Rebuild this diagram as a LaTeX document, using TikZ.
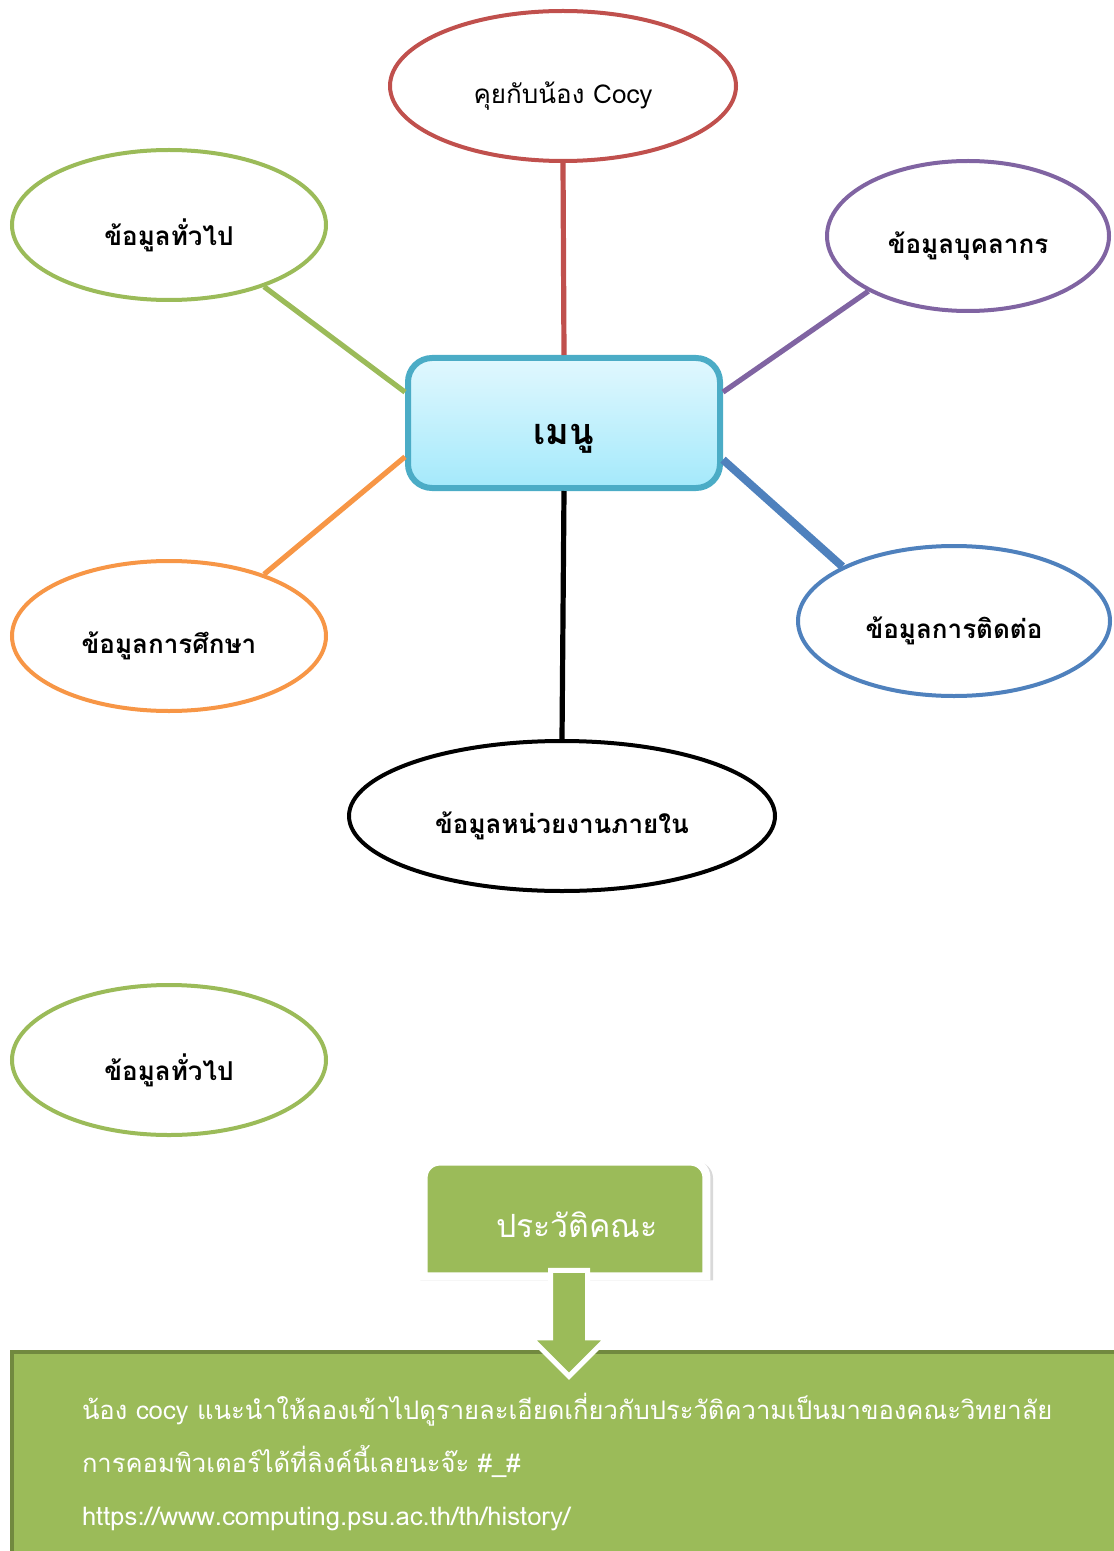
\documentclass[tikz,border=0pt]{standalone}
\usepackage{fontspec}
\newfontfamily\thaifont[Script=Thai]{Loma}
\usetikzlibrary{shapes.geometric,shapes.arrows,shadows,backgrounds}

\definecolor{cocyRed}{RGB}{192,80,77}
\definecolor{genGreen}{RGB}{155,187,89}
\definecolor{staffPurple}{RGB}{128,100,162}
\definecolor{eduOrange}{RGB}{247,150,70}
\definecolor{contactBlue}{RGB}{79,129,189}
\definecolor{menuLine}{RGB}{75,172,198}
\definecolor{menuTop}{RGB}{225,248,254}
\definecolor{menuBot}{RGB}{164,233,251}
\definecolor{infoLine}{RGB}{113,137,63}

% lower a text inside its node, keeping the node size
\newcommand{\lowtext}[2][5pt]{\raisebox{-#1}[\height][\depth]{#2}}

\tikzset{
  bubble/.style={ellipse, draw, line width=2pt, fill=white, inner sep=0pt,
    font=\thaifont\fontsize{13}{15}\selectfont\bfseries},
  spoke/.style={line width=2.6pt},
}

\begin{document}
\begin{tikzpicture}[x=0.5pt, y=-0.5pt]
\useasboundingbox (0,0) rectangle (1113,1551);

% the menu in the middle
\node[draw=menuLine, line width=3pt, rounded corners=12pt, top color=menuTop, bottom color=menuBot,
  minimum width=156pt, minimum height=65pt, font=\thaifont\fontsize{18}{20}\selectfont\bfseries] (menu) at (564,423) {\lowtext[8pt]{เมนู}};

% choices round it
\node[bubble, draw=cocyRed, minimum width=173pt, minimum height=75pt, font=\thaifont\fontsize{13}{15}\selectfont] (cocy) at (563,86) {\lowtext{คุยกับน้อง Cocy}};
\node[bubble, draw=genGreen, minimum width=157pt, minimum height=75pt] (gen) at (169,225) {\lowtext{ข้อมูลทั่วไป}};
\node[bubble, draw=staffPurple, minimum width=141pt, minimum height=75pt] (staff) at (968,236) {\lowtext{ข้อมูลบุคลากร}};
\node[bubble, draw=eduOrange, minimum width=157pt, minimum height=75pt] (edu) at (169,636) {\lowtext{ข้อมูลการศึกษา}};
\node[bubble, draw=contactBlue, minimum width=156pt, minimum height=75pt] (contact) at (954,621) {\lowtext{ข้อมูลการติดต่อ}};
\node[bubble, draw=black, minimum width=213pt, minimum height=75pt] (unit) at (562,816) {\lowtext{ข้อมูลหน่วยงานภายใน}};

\draw[spoke, cocyRed] (cocy.south) -- (menu.north);
\draw[spoke, genGreen] (gen.-33) -- (menu.169);
\draw[spoke, staffPurple] (staff.209) -- (menu.11.5);
\draw[spoke, eduOrange] (edu.33) -- (menu.192);
\draw[spoke, contactBlue, line width=4pt] (contact.154) -- (menu.-13);
\draw[spoke, black] (menu.south) -- (unit.north);

% second copy, on its own
\node[bubble, draw=genGreen, minimum width=157pt, minimum height=75pt] (gen2) at (169,1060) {\lowtext{ข้อมูลทั่วไป}};

% history
\node[minimum width=141pt, minimum height=57pt, text=white, font=\thaifont\fontsize{16}{18}\selectfont] (hist) at (565,1219) {\hspace{12pt}\lowtext[3pt]{ประวัติคณะ}};
\begin{scope}[on background layer]
\path[fill=genGreen, draw=white, line width=4pt, drop shadow={opacity=0.3, shadow xshift=0.8pt, shadow yshift=-1pt, shadow scale=1.035}]
  (hist.south west) [rounded corners=8pt] -- (hist.north west) -- (hist.north east) [sharp corners] -- (hist.south east) -- cycle;
\end{scope}

\node[fill=genGreen, draw=infoLine, line width=2pt, anchor=north west, minimum width=560pt, minimum height=110pt,
  inner xsep=35pt, text width=500pt, align=left, text=white,
  font=\thaifont\fontsize{12.8}{26.5}\selectfont] (info) at (10,1350)
  {น้อง cocy แนะนำให้ลองเข้าไปดูรายละเอียดเกี่ยวกับประวัติความเป็นมาของคณะวิทยาลัย\\
   การคอมพิวเตอร์ได้ที่ลิงค์นี้เลยนะจ๊ะ \#\_\#\\
   https://www.computing.psu.ac.th/th/history/};

\node[single arrow, rotate=-90, fill=genGreen, draw=white, line width=2.5pt, minimum height=53pt,
  minimum width=36.5pt, single arrow head extend=10pt, inner sep=8pt] (down) at (569,1314) {};
\end{tikzpicture}
\end{document}
